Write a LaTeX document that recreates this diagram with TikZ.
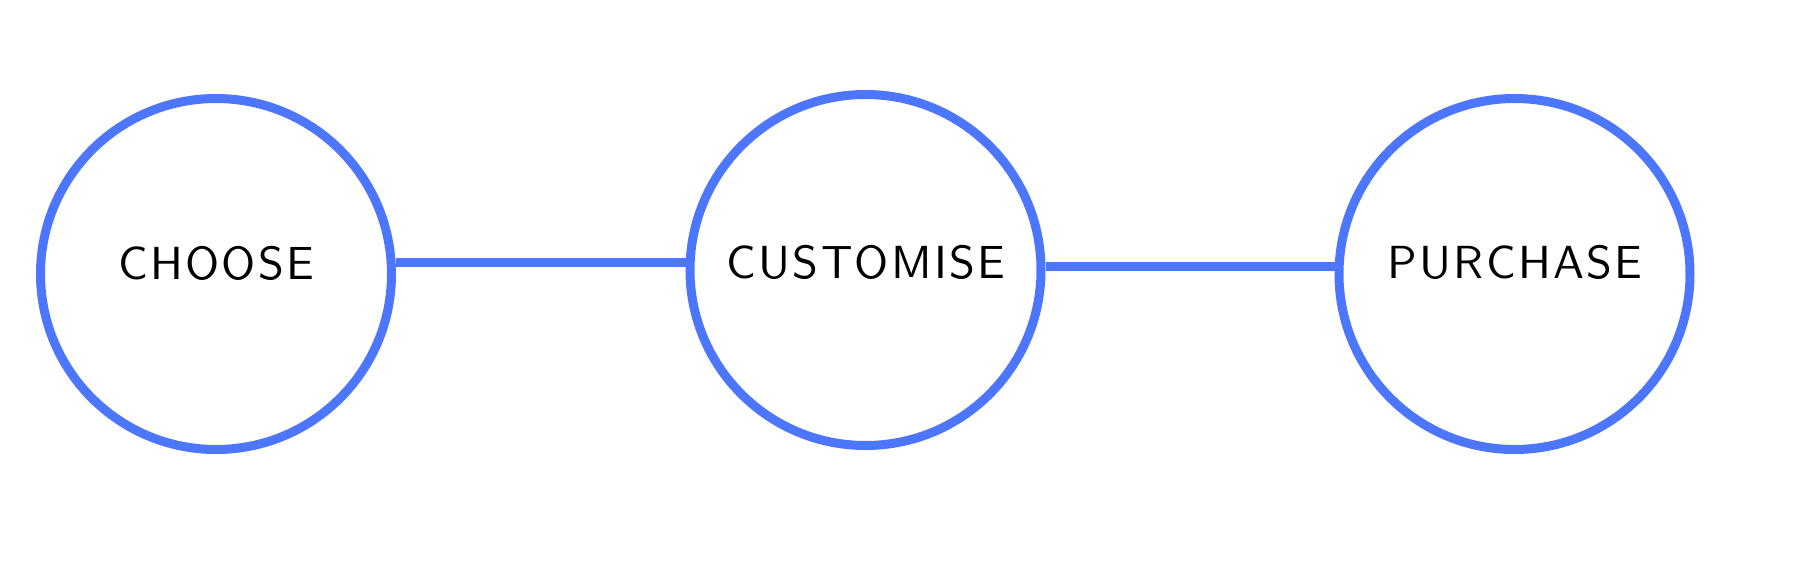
\documentclass[tikz,border=0pt]{standalone}
\usepackage{fontspec}
\newfontfamily\captionfont{lmsans10-regular.otf}[LetterSpace=5]
\definecolor{stepblue}{RGB}{77,118,255}
\begin{document}
	\begin{tikzpicture}[
		stage/.style = {circle, draw=stepblue, line width=0.09cm, minimum size=3.51cm, inner sep=0pt, fill=white},
		caption/.style = {font=\captionfont\fontsize{13.2}{16}\selectfont, inner sep=0pt},
		link/.style = {draw=stepblue, line width=0.09cm}
	]
		\useasboundingbox (0,0) rectangle (18,5.65);
		\node[stage] (choose) at (2.16,2.91) {};
		\node[stage] (customise) at (8.655,2.95) {};
		\node[stage] (purchase) at (15.145,2.91) {};
		\node at (2.16,3.02)[caption] (chooseTxt) {CHOOSE};
		\node at (8.66,3.03)[caption] (customiseTxt) {CUSTOMISE};
		\node at (15.15,3.03)[caption] (purchaseTxt) {PURCHASE};
		\draw[link] ([yshift=1.15mm]choose.east) -- ([yshift=1.15mm]choose.east -| customise.west);
		\draw[link] ([yshift=0.4mm]customise.east) -- ([yshift=0.4mm]customise.east -| purchase.west);
	\end{tikzpicture}
\end{document}
